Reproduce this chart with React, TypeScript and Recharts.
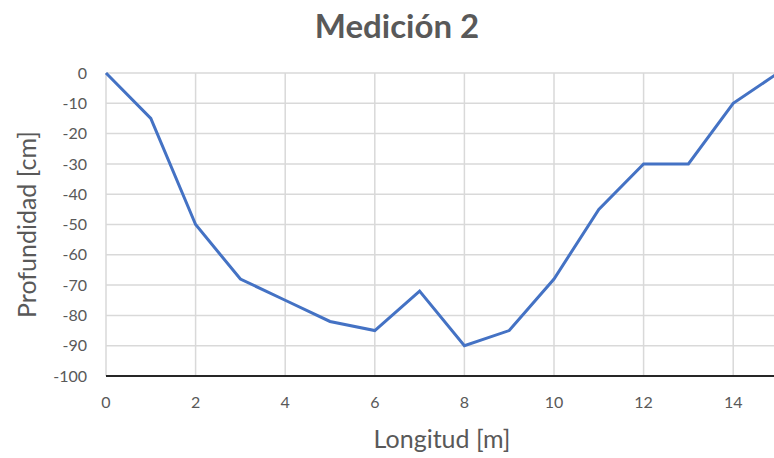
import React from 'react';
import { LineChart, Line, XAxis, YAxis, CartesianGrid } from 'recharts';

const longitud = [0, 1, 2, 3, 4, 5, 6, 7, 8, 9, 10, 11, 12, 13, 14, 15];
const profundidad = [0, -15, -50, -68, -75, -82, -85, -72, -90, -85, -68, -45, -30, -30, -10, 0];
const xTicks = [0, 2, 4, 6, 8, 10, 12, 14];
const yTicks = [0, -10, -20, -30, -40, -50, -60, -70, -80, -90, -100];

const data = longitud.map((x, i) => ({ x, y: profundidad[i] }));

const FONT = 'Lato, "Open Sans", sans-serif';
const GREY = '#595959';

export default function App() {
  return (
    <div style={{ position: 'fixed', left: 0, top: 0, width: 774, height: 458, overflow: 'hidden', background: '#fff', fontFamily: FONT }}>
      <div style={{ position: 'absolute', left: 0, width: 794, top: 5, textAlign: 'center', fontSize: 33, fontWeight: 700, color: GREY, lineHeight: '40px' }}>
        Medición 2
      </div>
      <LineChart width={790} height={458} data={data} margin={{ top: 73, right: 12, bottom: 0, left: 0 }}>
        <CartesianGrid stroke="#d9d9d9" strokeWidth={1.5} />
        <XAxis
          dataKey="x"
          type="number"
          domain={[0, 15]}
          ticks={xTicks}
          height={82}
          tickLine={false}
          axisLine={{ stroke: '#262626', strokeWidth: 2 }}
          tick={{ fill: GREY, fontSize: 16, fontFamily: FONT }}
          tickMargin={15}
          label={{ value: 'Longitud [m]', position: 'insideBottom', offset: 10, fill: GREY, fontSize: 25, fontFamily: FONT }}
        />
        <YAxis
          type="number"
          domain={[-100, 0]}
          ticks={yTicks}
          width={106}
          tickLine={false}
          axisLine={false}
          tick={{ fill: GREY, fontSize: 16, fontFamily: FONT }}
          tickMargin={13}
          label={{ value: 'Profundidad [cm]', angle: -90, position: 'insideLeft', offset: 27, fill: GREY, fontSize: 25, fontFamily: FONT, style: { textAnchor: 'middle' } }}
        />
        <Line dataKey="y" stroke="#4472C4" strokeWidth={3} dot={false} isAnimationActive={false} />
      </LineChart>
    </div>
  );
}
